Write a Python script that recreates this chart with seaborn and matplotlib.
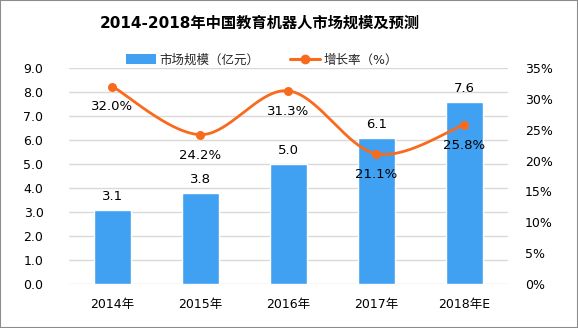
import numpy as np
import pandas as pd
import matplotlib
matplotlib.use("Agg")
import matplotlib.pyplot as plt
from matplotlib.patches import Rectangle, Patch
from matplotlib.lines import Line2D
import seaborn as sns

years = ["2014年", "2015年", "2016年", "2017年", "2018年E"]
market_size = [3.1, 3.8, 5.0, 6.1, 7.6]          # 亿元
growth_rate = [32.0, 24.2, 31.3, 21.1, 25.8]      # %
left_ticks = [0, 1, 2, 3, 4, 5, 6, 7, 8, 9]
right_ticks = [0, 5, 10, 15, 20, 25, 30, 35]

title = "2014-2018年中国教育机器人市场规模及预测"
bar_name = "市场规模（亿元）"
line_name = "增长率（%）"

BAR_COLOR = "#40A0F2"
LINE_COLOR = "#FA6A1C"
GRID_COLOR = "#D9D9D9"

sns.set_theme(style="white")
plt.rcParams["font.family"] = ["DejaVu Sans", "Noto Sans CJK SC"]

fig = plt.figure(figsize=(5.78, 3.28), dpi=100)
ax = fig.add_axes([68.5 / 578, 44 / 328, (508 - 68.5) / 578, 216 / 328])

df = pd.DataFrame({"year": years, "size": market_size, "rate": growth_rate})
sns.barplot(data=df, x="year", y="size", color=BAR_COLOR, saturation=1,
            width=0.42, ax=ax, zorder=2)

ax.set_ylim(0, 9)
ax.set_xlim(-0.5, len(years) - 0.5)
ax.set_yticks(left_ticks)
ax.set_yticklabels([f"{v:.1f}" for v in left_ticks])
ax.yaxis.grid(True, color=GRID_COLOR, linewidth=1, zorder=0)
ax.set_axisbelow(True)
ax.set_xlabel("")
ax.set_ylabel("")
ax.tick_params(axis="y", length=0, pad=18, labelsize=9, colors="#000000")
ax.tick_params(axis="x", length=0, pad=10, labelsize=9, colors="#000000")
for s in ax.spines.values():
    s.set_visible(False)

# value labels above bars
for i, v in enumerate(market_size):
    ax.annotate(f"{v:.1f}", (i, v), xytext=(0, 5), textcoords="offset points",
                ha="center", va="bottom", fontsize=9.5, color="#000000")

# growth rate on the secondary axis, smoothed with a Catmull-Rom curve
ax2 = ax.twinx()
ax2.set_ylim(0, 35)
ax2.set_yticks(right_ticks)
ax2.set_yticklabels([f"{v}%" for v in right_ticks])
ax2.tick_params(axis="y", length=0, pad=12, labelsize=9, colors="#000000")
for s in ax2.spines.values():
    s.set_visible(False)
ax2.grid(False)

xs = np.arange(len(growth_rate), dtype=float)
ys = np.array(growth_rate, dtype=float)
px = np.concatenate([[xs[0]], xs, [xs[-1]]])
py = np.concatenate([[ys[0]], ys, [ys[-1]]])
cx, cy = [], []
t = np.linspace(0, 1, 40)
for k in range(1, len(px) - 2):
    for arr, out in ((px, cx), (py, cy)):
        p0, p1, p2, p3 = arr[k - 1], arr[k], arr[k + 1], arr[k + 2]
        seg = 0.5 * ((2 * p1) + (-p0 + p2) * t + (2 * p0 - 5 * p1 + 4 * p2 - p3) * t ** 2
                     + (-p0 + 3 * p1 - 3 * p2 + p3) * t ** 3)
        out.extend(seg.tolist())
curve = pd.DataFrame({"x": cx, "y": cy})
sns.lineplot(data=curve, x="x", y="y", color=LINE_COLOR, linewidth=2.0,
             sort=False, ax=ax2, zorder=3)
sns.scatterplot(x=xs, y=ys, color=LINE_COLOR, s=42, edgecolor=LINE_COLOR,
                linewidth=0, ax=ax2, zorder=4)
ax2.set_xlabel("")
ax2.set_ylabel("")

for i, v in enumerate(growth_rate):
    ax2.annotate(f"{v:.1f}%", (i, v), xytext=(0, -10), textcoords="offset points",
                 ha="center", va="top", fontsize=9.5, color="#000000")

ax.set_xlim(-0.5, len(years) - 0.5)

# title and legend
fig.text(260 / 578, 1 - 23 / 328, title, ha="center", va="center",
         fontsize=11, fontweight="bold", color="#000000")
handles = [Patch(facecolor=BAR_COLOR, edgecolor="none"),
           Line2D([0], [0], color=LINE_COLOR, linewidth=2.2, marker="o",
                  markersize=6)]
fig.legend(handles, [bar_name, line_name], loc="center",
           bbox_to_anchor=(262 / 578, 1 - 60 / 328), ncol=2, frameon=False,
           fontsize=9, handlelength=2.4, handleheight=0.8, columnspacing=2.4,
           handletextpad=0.3)

# outer frame
fig.patches.append(Rectangle((0, 0), 1, 1, transform=fig.transFigure,
                             fill=False, edgecolor="#8C8C8C", linewidth=1.5))

fig.savefig("out.png", dpi=100)
